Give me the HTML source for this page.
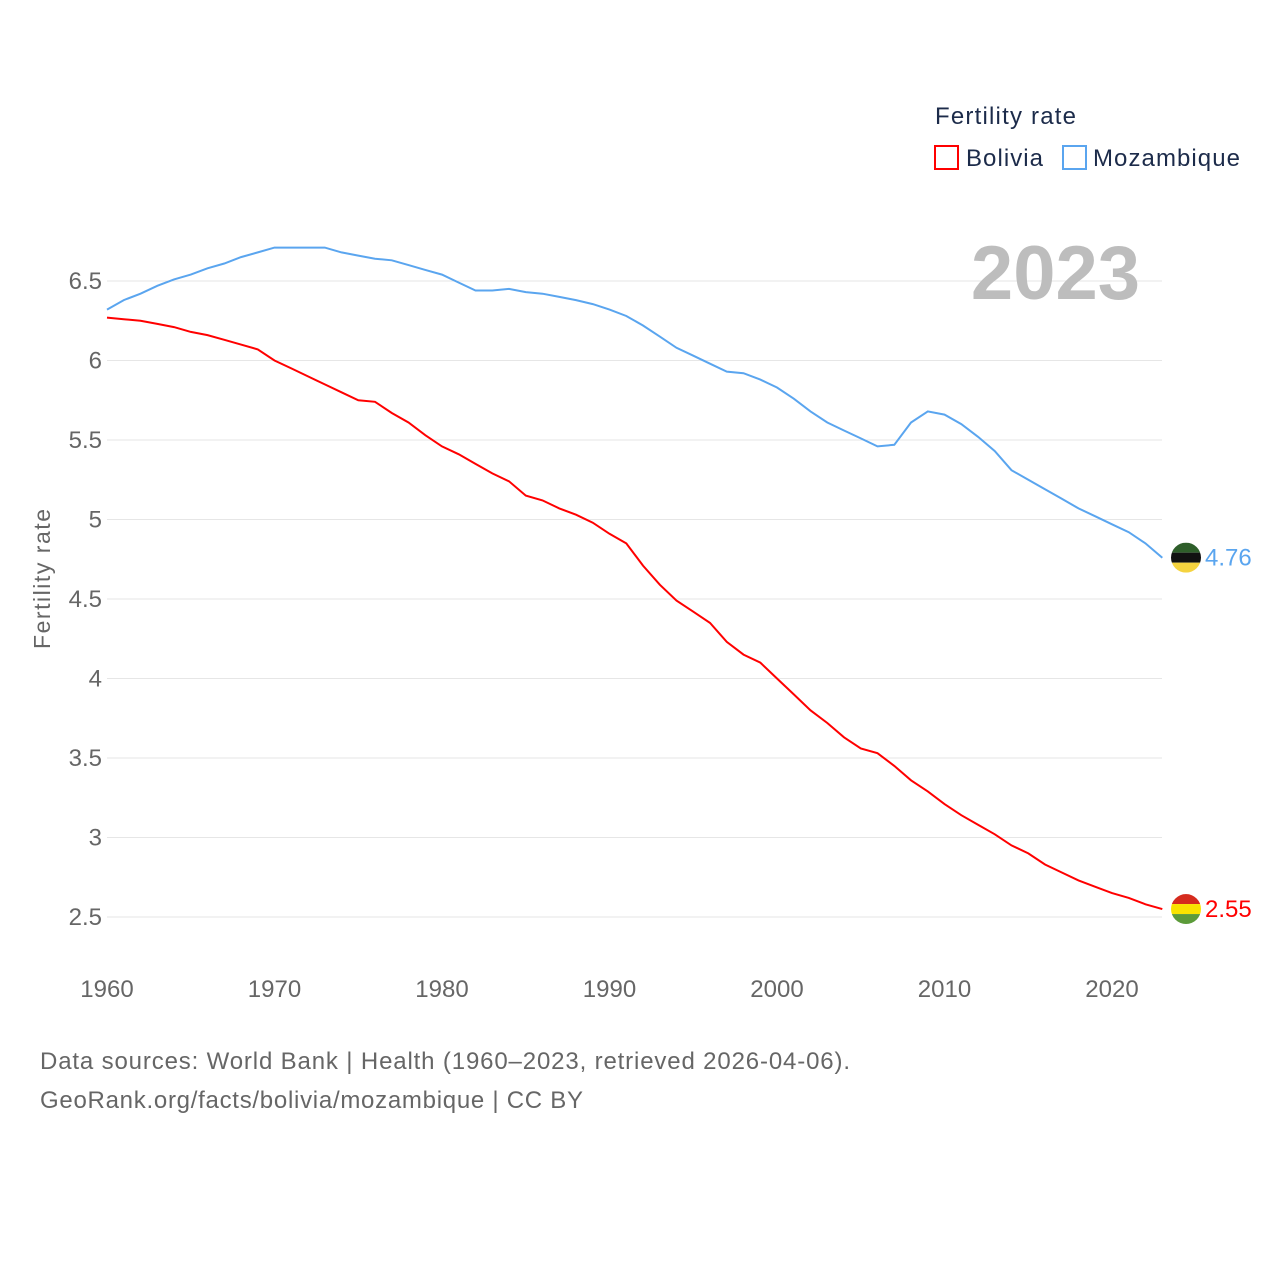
<!DOCTYPE html>
<html><head><meta charset="utf-8"><style>
body{margin:0;background:#fff;font-family:"Liberation Sans",sans-serif}
svg text{font-family:"Liberation Sans",sans-serif}
</style></head><body>
<svg id="chart" width="1280" height="1280" viewBox="0 0 1280 1280">
<g id="grid"></g><g id="yt"></g><g id="xt"></g><g id="lines"></g>
<text x="50" y="579" transform="rotate(-90 50 579)" text-anchor="middle" font-size="23" fill="#666" textLength="140">Fertility rate</text>
<text x="1140" y="299" text-anchor="end" font-size="76" font-weight="bold" fill="#bdbdbd">2023</text>
<text x="935" y="124" font-size="24" fill="#1c2b4a" textLength="141">Fertility rate</text>
<g><rect x="935" y="146" width="23" height="23" fill="none" stroke="#f00" stroke-width="2"/><text x="966" y="166" font-size="24" fill="#1c2b4a" textLength="77">Bolivia</text></g>
<g><rect x="1063" y="146" width="23" height="23" fill="none" stroke="#5aa5ef" stroke-width="2"/><text x="1093" y="166" font-size="24" fill="#1c2b4a" textLength="147">Mozambique</text></g>
<text x="40" y="1069" font-size="24" fill="#666" textLength="810">Data sources: World Bank | Health (1960–2023, retrieved 2026-04-06).</text>
<text x="40" y="1108" font-size="24" fill="#666" textLength="543">GeoRank.org/facts/bolivia/mozambique | CC BY</text>
</svg>
<script>
const years=[];for(let y=1960;y<=2023;y++)years.push(y);
const bolivia=[6.27,6.26,6.25,6.23,6.21,6.18,6.16,6.13,6.10,6.07,6.00,5.95,5.90,5.85,5.80,5.75,5.74,5.67,5.61,5.53,5.46,5.41,5.35,5.29,5.24,5.15,5.12,5.07,5.03,4.98,4.91,4.85,4.71,4.59,4.49,4.42,4.35,4.23,4.15,4.10,4.00,3.90,3.80,3.72,3.63,3.56,3.53,3.45,3.36,3.29,3.21,3.14,3.08,3.02,2.95,2.90,2.83,2.78,2.73,2.69,2.65,2.62,2.58,2.55];
const mozambique=[6.32,6.38,6.42,6.47,6.51,6.54,6.58,6.61,6.65,6.68,6.71,6.71,6.71,6.71,6.68,6.66,6.64,6.63,6.60,6.57,6.54,6.49,6.44,6.44,6.45,6.43,6.42,6.40,6.38,6.355,6.32,6.28,6.22,6.15,6.08,6.03,5.98,5.93,5.92,5.88,5.83,5.76,5.68,5.61,5.56,5.51,5.46,5.47,5.61,5.68,5.66,5.60,5.52,5.43,5.31,5.25,5.19,5.13,5.07,5.02,4.97,4.92,4.85,4.76];
const yTicks=[2.5,3,3.5,4,4.5,5,5.5,6,6.5];
const xTicks=[1960,1970,1980,1990,2000,2010,2020];
const X=y=>107+(y-1960)*16.75, Y=v=>917-(v-2.5)*159;
const NS="http://www.w3.org/2000/svg";
function mk(t,a,p){const e=document.createElementNS(NS,t);for(const k in a)e.setAttribute(k,a[k]);p.appendChild(e);return e;}
const g=document.getElementById('grid'),yt=document.getElementById('yt'),xt=document.getElementById('xt'),L=document.getElementById('lines');
yTicks.forEach(v=>{const l=mk('line',{x1:107,x2:1162,y1:Y(v),y2:Y(v),stroke:'#e6e6e6','stroke-width':1},g);


const t=mk('text',{x:102,y:Y(v)+8,'text-anchor':'end','font-size':24,fill:'#666'},yt);t.textContent=v;

});
xTicks.forEach(v=>{const t=mk('text',{x:X(v),y:997,'text-anchor':'middle','font-size':24,fill:'#666'},xt);t.textContent=v;

});
function series(data,color,name,flag){
const p=mk('path',{d:data.map((v,i)=>(i?'L':'M')+X(years[i]).toFixed(1)+' '+Y(v).toFixed(1)).join(''),fill:'none',stroke:color,'stroke-width':2},L);


const last=data[data.length-1],cy=Y(last),cx=1186;
const fg=mk('g',{},L);


const id='c'+name;const cp=mk('clipPath',{id:id},fg);mk('circle',{cx:cx,cy:cy,r:15},cp);
const inner=mk('g',{'clip-path':'url(#'+id+')'},fg);
flag.forEach((c,i)=>mk('rect',{x:cx-15,y:cy-15+i*10,width:30,height:10,fill:c},inner));
const t=mk('text',{x:1205,y:cy+8,'font-size':24,fill:color},L);t.textContent=last.toFixed(2);


}
series(mozambique,'#5aa5ef','mozambique',['#2e5e2a','#111','#f5d33f']);
series(bolivia,'#f00','bolivia',['#d52b1e','#f9e300','#5c9b3a']);
</script>
</body></html>
